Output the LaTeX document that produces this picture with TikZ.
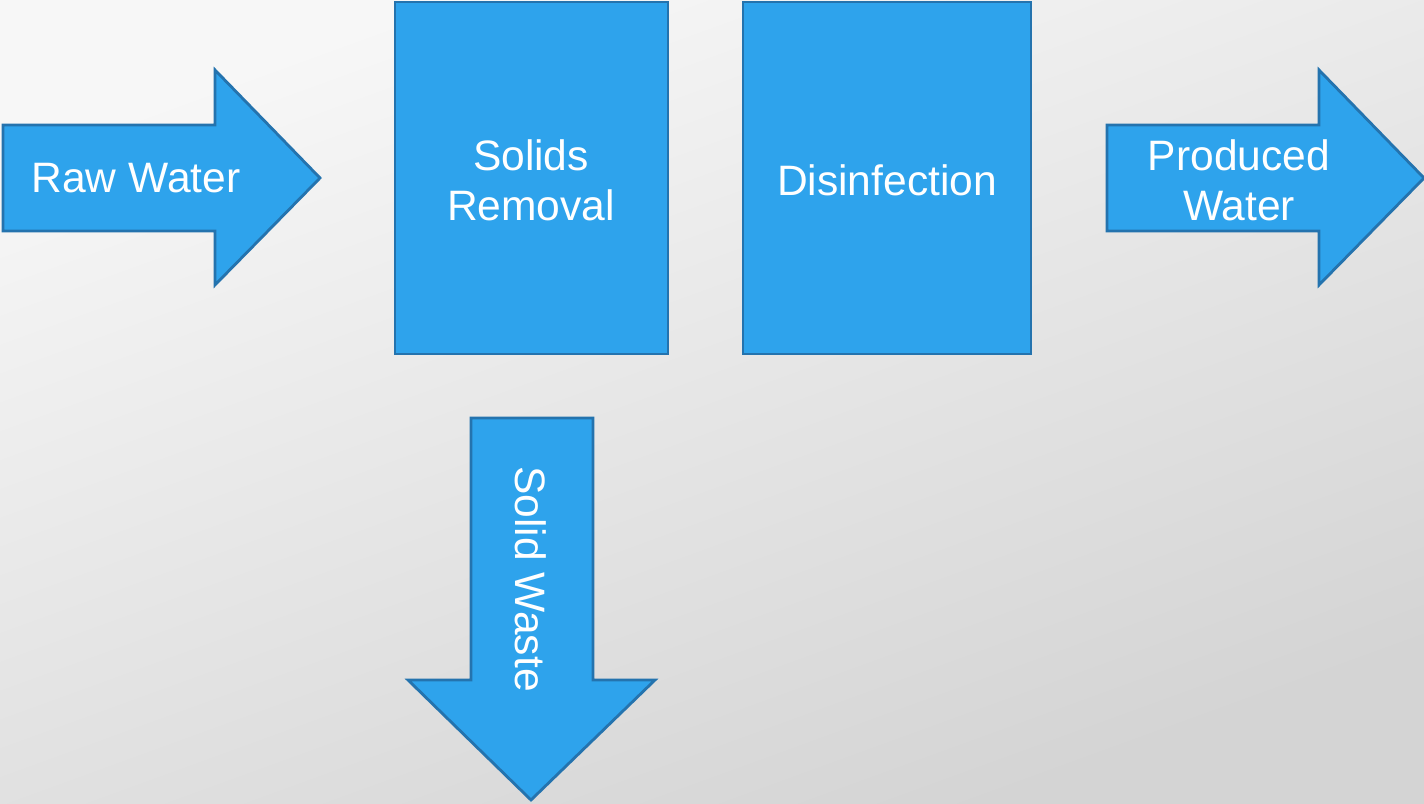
\documentclass[tikz,border=0pt]{standalone}
\usepackage{fontspec}
\setmainfont{Liberation Sans}
\definecolor{boxblue}{HTML}{2EA3EC}
\definecolor{edgeblue}{HTML}{2473AE}
\tikzset{
	blockshape/.style={fill=boxblue, draw=edgeblue, line width=0.8pt, line join=miter},
	label/.style={text=white, font=\fontsize{12.1}{14.2}\selectfont, align=center, inner sep=0pt}
}
\begin{document}
\begin{tikzpicture}[x=0.01cm, y=-0.01cm]
		% background
		\shade[top color=white!97!black, bottom color=black!17, shading angle=20] (0, 0) rectangle (1424, 804);
		\useasboundingbox (0, 0) rectangle (1424, 804);
		
		% arrows in and out
		\foreach \x in {3, 1107}{
			\draw[blockshape] (\x, 125) -- (\x+212, 125) -- (\x+212, 70) -- (\x+317, 178)
				-- (\x+212, 285) -- (\x+212, 231) -- (\x, 231) -- cycle;
		}
		
		% blocks
		\draw[blockshape] (395, 2) rectangle (668, 354);
		\draw[blockshape] (743, 2) rectangle (1031, 354);
		
		% waste arrow
		\draw[blockshape] (471, 418) -- (593, 418) -- (593, 680) -- (655, 680) -- (531, 800)
			-- (408, 680) -- (471, 680) -- cycle;
		
		\node[label] (raw) at (136, 178) {Raw Water};
		\node[label] (solids) at (531, 180) {Solids\\Removal};
		\node[label] (disinf) at (887, 180) {Disinfection};
		\node[label] (produced) at (1239, 180) {Produced\\Water};
		\node[label, rotate=-90] (waste) at (531, 579) {Solid Waste};
		\end{tikzpicture}
\end{document}
